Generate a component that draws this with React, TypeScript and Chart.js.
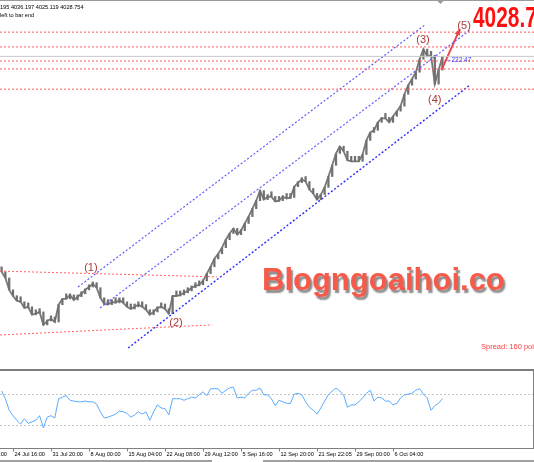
import React, { useEffect, useRef } from "react";
import { Chart, registerables } from "chart.js";
Chart.register(...registerables);

const W = 534;
const MAIN_H = 370;
const RSI_TOP = 369;
const RSI_H = 93;

// bar index of first sample, x-range of the visible window (in bars)
const firstBar = -3;
const xMinBar = -3.42;
const xMaxBar = 137.1;
const priceMin = 3160;
const priceMax = 4185;

const closes = [
  3432, 3415, 3382, 3365, 3352, 3349, 3332, 3335, 3313, 3316, 3321, 3285, 3296, 3302, 3293,
  3341, 3357, 3357, 3368, 3354, 3363, 3371, 3382, 3390, 3399, 3388, 3360, 3343, 3341, 3349,
  3346, 3354, 3346, 3335, 3329, 3335, 3341, 3335, 3327, 3313, 3321, 3332, 3335, 3329, 3316,
  3365, 3365, 3368, 3374, 3379, 3388, 3393, 3396, 3407, 3427, 3446, 3468, 3482, 3499, 3521,
  3538, 3552, 3535, 3546, 3566, 3585, 3607, 3629, 3657, 3632, 3640, 3640, 3627, 3629, 3640,
  3635, 3638, 3668, 3679, 3688, 3682, 3660, 3649, 3632, 3646, 3666, 3696, 3727, 3760, 3779,
  3766, 3741, 3738, 3738, 3738, 3757, 3796, 3818, 3824, 3846, 3857, 3857, 3846, 3863, 3877,
  3891, 3924, 3949, 3966, 3985, 4021, 4049, 4029, 4032, 3952, 3991, 4028,
];

const rsiValues = [
  74, 64, 49, 42, 36, 31, 38, 32, 34, 36, 42, 26, 40, 42, 39, 64, 66, 68, 62, 61, 60, 60, 61,
  60, 60, 57, 47, 39, 40, 42, 44, 48, 47, 45, 40, 43, 47, 44, 47, 36, 47, 56, 52, 51, 43, 64,
  64, 64, 62, 64, 66, 65, 69, 73, 68, 77, 77, 77, 71, 75, 78, 79, 65, 66, 65, 71, 75, 75, 78,
  69, 69, 64, 55, 62, 60, 58, 58, 70, 71, 69, 60, 53, 49, 44, 52, 61, 69, 74, 78, 74, 69, 53,
  56, 56, 60, 65, 71, 75, 61, 66, 65, 61, 61, 56, 58, 65, 69, 70, 71, 75, 77, 70, 65, 49, 55,
  58, 64,
];

const rsiLevels = [70, 30];

const tickBars = [-10, 0, 10, 20, 30, 40, 50, 60, 70, 80, 90, 100];
const tickLabels = [
  "17 Jul 12:00", "24 Jul 16:00", "31 Jul 20:00", "8 Aug 00:00", "15 Aug 04:00",
  "22 Aug 08:00", "29 Aug 12:00", "5 Sep 16:00", "12 Sep 20:00", "21 Sep 22:05",
  "29 Sep 00:00", "6 Oct 04:00",
];

const headerLine1 = "195 4036.197 4025.119 4028.754";
const headerLine2 = "left to bar end";
const lastPrice = 4028.754;
const bigPriceText = "4028.75";
const spreadText = "Spread: 160 points";
const timerText = "222:47";
const watermark = "Blogngoaihoi.co";

const waveNames = ["(1)", "(2)", "(3)", "(4)", "(5)"];
const waveBars = [20.5, 42.9, 107.9, 111.0, 118.7];
const wavePrices = [3443, 3290, 4074, 3908, 4113];

// horizontal resistance/support levels (red dotted)
const levelPrices = [4096, 4055, 4016, 3994, 3938];

// channel lines [bar, price] start -> end
const channelUpper = [[17.1, 3390], [108.4, 4116]];
const channelMiddle = [[22.9, 3332], [120.3, 4102]];
const channelLower = [[30.3, 3221], [120.3, 3950]];
// wave (1)/(2) red dotted trend lines
const trendTop = [[-3.42, 3434], [53.7, 3418]];
const trendBottom = [[-3.42, 3257], [52.4, 3285]];
// projection arrow towards (5)
const arrowLine = [[112.9, 3994], [117.6, 4105]];

const pts = (a: number[][]) => a.map(([x, y]) => ({ x, y }));

const lineDs = (data: any[], color: string, dash: number[], width = 1) => ({
  type: "line" as const,
  data,
  borderColor: color,
  borderWidth: width,
  borderDash: dash,
  pointRadius: 0,
  fill: false,
  tension: 0,
});

const mainOverlay = {
  id: "mainOverlay",
  afterDatasetsDraw(chart: any) {
    const { ctx } = chart;
    const xs = chart.scales.x;
    const ys = chart.scales.y;
    ctx.save();
    // top frame line + shift marker
    ctx.fillStyle = "#9a9a9a";
    ctx.fillRect(0, 0, W, 1);
    const mx = xs.getPixelForValue(firstBar + closes.length - 1) - 2;
    ctx.beginPath();
    ctx.moveTo(mx - 3, 1);
    ctx.lineTo(mx + 3, 1);
    ctx.lineTo(mx, 4);
    ctx.closePath();
    ctx.fill();

    // header texts
    ctx.fillStyle = "#000";
    ctx.font = '5.6px "Liberation Sans"';
    ctx.textAlign = "left";
    ctx.textBaseline = "middle";
    ctx.fillText(headerLine1, 0, 7);
    ctx.fillText(headerLine2, 0, 15);

    // arrow head
    const [a0, a1] = arrowLine;
    const x0 = xs.getPixelForValue(a0[0]);
    const y0 = ys.getPixelForValue(a0[1]);
    const x1 = xs.getPixelForValue(a1[0]);
    const y1 = ys.getPixelForValue(a1[1]);
    const ang = Math.atan2(y1 - y0, x1 - x0);
    ctx.fillStyle = "#e84848";
    ctx.beginPath();
    ctx.moveTo(x1, y1);
    ctx.lineTo(x1 - 7 * Math.cos(ang - 0.45), y1 - 7 * Math.sin(ang - 0.45));
    ctx.lineTo(x1 - 7 * Math.cos(ang + 0.45), y1 - 7 * Math.sin(ang + 0.45));
    ctx.closePath();
    ctx.fill();

    // wave labels
    ctx.font = '11px "Liberation Sans"';
    ctx.fillStyle = "#a83a3a";
    ctx.textAlign = "center";
    ctx.textBaseline = "middle";
    waveNames.forEach((t, k) => {
      ctx.fillText(t, xs.getPixelForValue(waveBars[k]), ys.getPixelForValue(wavePrices[k]));
    });

    // timer label near last bar
    const lx = xs.getPixelForValue(firstBar + closes.length - 1);
    const ly = ys.getPixelForValue(lastPrice) + 4;
    ctx.strokeStyle = "#4a4aff";
    ctx.setLineDash([1, 1]);
    ctx.beginPath();
    ctx.moveTo(lx + 3, ly);
    ctx.lineTo(lx + 8, ly);
    ctx.stroke();
    ctx.setLineDash([]);
    ctx.fillStyle = "#3a3aff";
    ctx.font = '6.5px "Liberation Sans"';
    ctx.textAlign = "left";
    ctx.fillText(timerText, lx + 9, ly);

    // big price label
    ctx.save();
    ctx.translate(473, 27);
    ctx.scale(0.72, 1);
    ctx.font = 'bold 29px "Liberation Sans"';
    ctx.fillStyle = "#ff1010";
    ctx.textBaseline = "alphabetic";
    ctx.fillText(bigPriceText, 0, 0);
    ctx.restore();

    // spread
    ctx.font = '7.5px "Liberation Sans"';
    ctx.fillStyle = "#ff4040";
    ctx.textBaseline = "middle";
    ctx.fillText(spreadText, 481, 347);

    // watermark
    ctx.save();
    ctx.font = 'bold 31px "Liberation Sans"';
    ctx.textBaseline = "alphabetic";
    ctx.shadowColor = "rgba(120,120,120,0.85)";
    ctx.shadowOffsetX = 2;
    ctx.shadowOffsetY = 3;
    ctx.shadowBlur = 1.5;
    ctx.fillStyle = "#f85a4a";
    ctx.fillText(watermark, 262, 290);
    ctx.restore();

    ctx.restore();
  },
};

const rsiOverlay = {
  id: "rsiOverlay",
  beforeDatasetsDraw(chart: any) {
    const { ctx } = chart;
    const ys = chart.scales.y;
    ctx.save();
    ctx.strokeStyle = "#c4c4c4";
    ctx.lineWidth = 1;
    ctx.setLineDash([2, 2]);
    rsiLevels.forEach((v) => {
      const y = Math.round(ys.getPixelForValue(v)) + 0.5;
      ctx.beginPath();
      ctx.moveTo(0, y);
      ctx.lineTo(W, y);
      ctx.stroke();
    });
    ctx.restore();
  },
  afterDraw(chart: any) {
    const { ctx, chartArea } = chart;
    const xs = chart.scales.x;
    ctx.save();
    // panel separator
    ctx.fillStyle = "#7d7d7d";
    ctx.fillRect(0, 0, W, 2);
    // bottom axis line
    const by = Math.round(chartArea.bottom) + 0.5;
    ctx.strokeStyle = "#808080";
    ctx.lineWidth = 1;
    ctx.beginPath();
    ctx.moveTo(0, by);
    ctx.lineTo(W, by);
    ctx.stroke();
    // right frame
    ctx.beginPath();
    ctx.moveTo(W - 0.5, 2);
    ctx.lineTo(W - 0.5, by);
    ctx.stroke();
    // ticks and labels
    ctx.fillStyle = "#000";
    ctx.font = '5.6px "Liberation Sans"';
    ctx.textAlign = "left";
    ctx.textBaseline = "middle";
    tickBars.forEach((b, k) => {
      const x = Math.round(xs.getPixelForValue(b)) + 0.5;
      ctx.beginPath();
      ctx.moveTo(x, by);
      ctx.lineTo(x, by + 3);
      ctx.stroke();
      ctx.fillText(tickLabels[k], x + 1, by + 6);
    });
    // bottom scrollbar line
    ctx.fillStyle = "#a0a0a0";
    ctx.fillRect(0, RSI_H - 2, 212, 2);
    ctx.fillRect(263, RSI_H - 2, W - 263, 2);
    ctx.restore();
  },
};

export default function App() {
  const mainRef = useRef<HTMLCanvasElement>(null);
  const rsiRef = useRef<HTMLCanvasElement>(null);

  useEffect(() => {
    const priceData = closes.map((v, k) => ({ x: firstBar + k, y: v }));
    // bar bodies: open = previous close, close = close
    const barData = closes.map((v, k) => ({
      x: firstBar + k,
      y: [k === 0 ? v : closes[k - 1], v],
    }));
    const rsiData = rsiValues.map((v, k) => ({ x: firstBar + k, y: v }));

    const levelDatasets = levelPrices.map((p) =>
      lineDs(pts([[xMinBar, p], [xMaxBar, p]]), "#ff5a5a", [2, 2])
    );

    const main = new Chart(mainRef.current as HTMLCanvasElement, {
      type: "line",
      data: {
        datasets: [
          lineDs(pts([[xMinBar, lastPrice], [xMaxBar, lastPrice]]), "#c8c8c8", []),
          ...levelDatasets,
          lineDs(pts(trendTop), "#ff6060", [2, 2]),
          lineDs(pts(trendBottom), "#ff6060", [2, 2]),
          lineDs(pts(channelUpper), "#5c5cff", [2, 2], 1.2),
          lineDs(pts(channelMiddle), "#5c5cff", [2, 2], 1.2),
          lineDs(pts(channelLower), "#2c2cff", [2, 2], 1.4),
          lineDs(pts(arrowLine), "#e84848", [], 2),
          {
            type: "bar" as const,
            data: barData as any,
            backgroundColor: "#707070",
            barThickness: 1.6,
            minBarLength: 5,
          },
          {
            type: "line" as const,
            data: priceData,
            borderColor: "#787878",
            borderWidth: 1.8,
            pointRadius: 0,
            fill: false,
            tension: 0,
          },
        ],
      },
      options: {
        animation: false,
        responsive: false,
        devicePixelRatio: 1,
        layout: { padding: 0 },
        plugins: { legend: { display: false }, tooltip: { enabled: false } },
        scales: {
          x: { type: "linear", min: xMinBar, max: xMaxBar, display: false, offset: false },
          y: { min: priceMin, max: priceMax, display: false },
        },
      },
      plugins: [mainOverlay],
    });

    const rsiChart = new Chart(rsiRef.current as HTMLCanvasElement, {
      type: "line",
      data: {
        datasets: [
          {
            data: rsiData,
            borderColor: "#5aaaff",
            borderWidth: 1,
            pointRadius: 0,
            fill: false,
            tension: 0,
          },
        ],
      },
      options: {
        animation: false,
        responsive: false,
        devicePixelRatio: 1,
        layout: { padding: { top: 2, bottom: 14, left: 0, right: 0 } },
        plugins: { legend: { display: false }, tooltip: { enabled: false } },
        scales: {
          x: { type: "linear", min: xMinBar, max: xMaxBar, display: false },
          y: { min: 0, max: 100, display: false },
        },
      },
      plugins: [rsiOverlay],
    });

    return () => {
      main.destroy();
      rsiChart.destroy();
    };
  }, []);

  return (
    <div
      style={{
        position: "fixed",
        left: 0,
        top: 0,
        width: W,
        height: 462,
        background: "#fff",
        overflow: "hidden",
      }}
    >
      <canvas
        ref={mainRef}
        width={W}
        height={MAIN_H}
        style={{ position: "absolute", left: 0, top: 0, width: W, height: MAIN_H }}
      />
      <canvas
        ref={rsiRef}
        width={W}
        height={RSI_H}
        style={{ position: "absolute", left: 0, top: RSI_TOP, width: W, height: RSI_H }}
      />
    </div>
  );
}
